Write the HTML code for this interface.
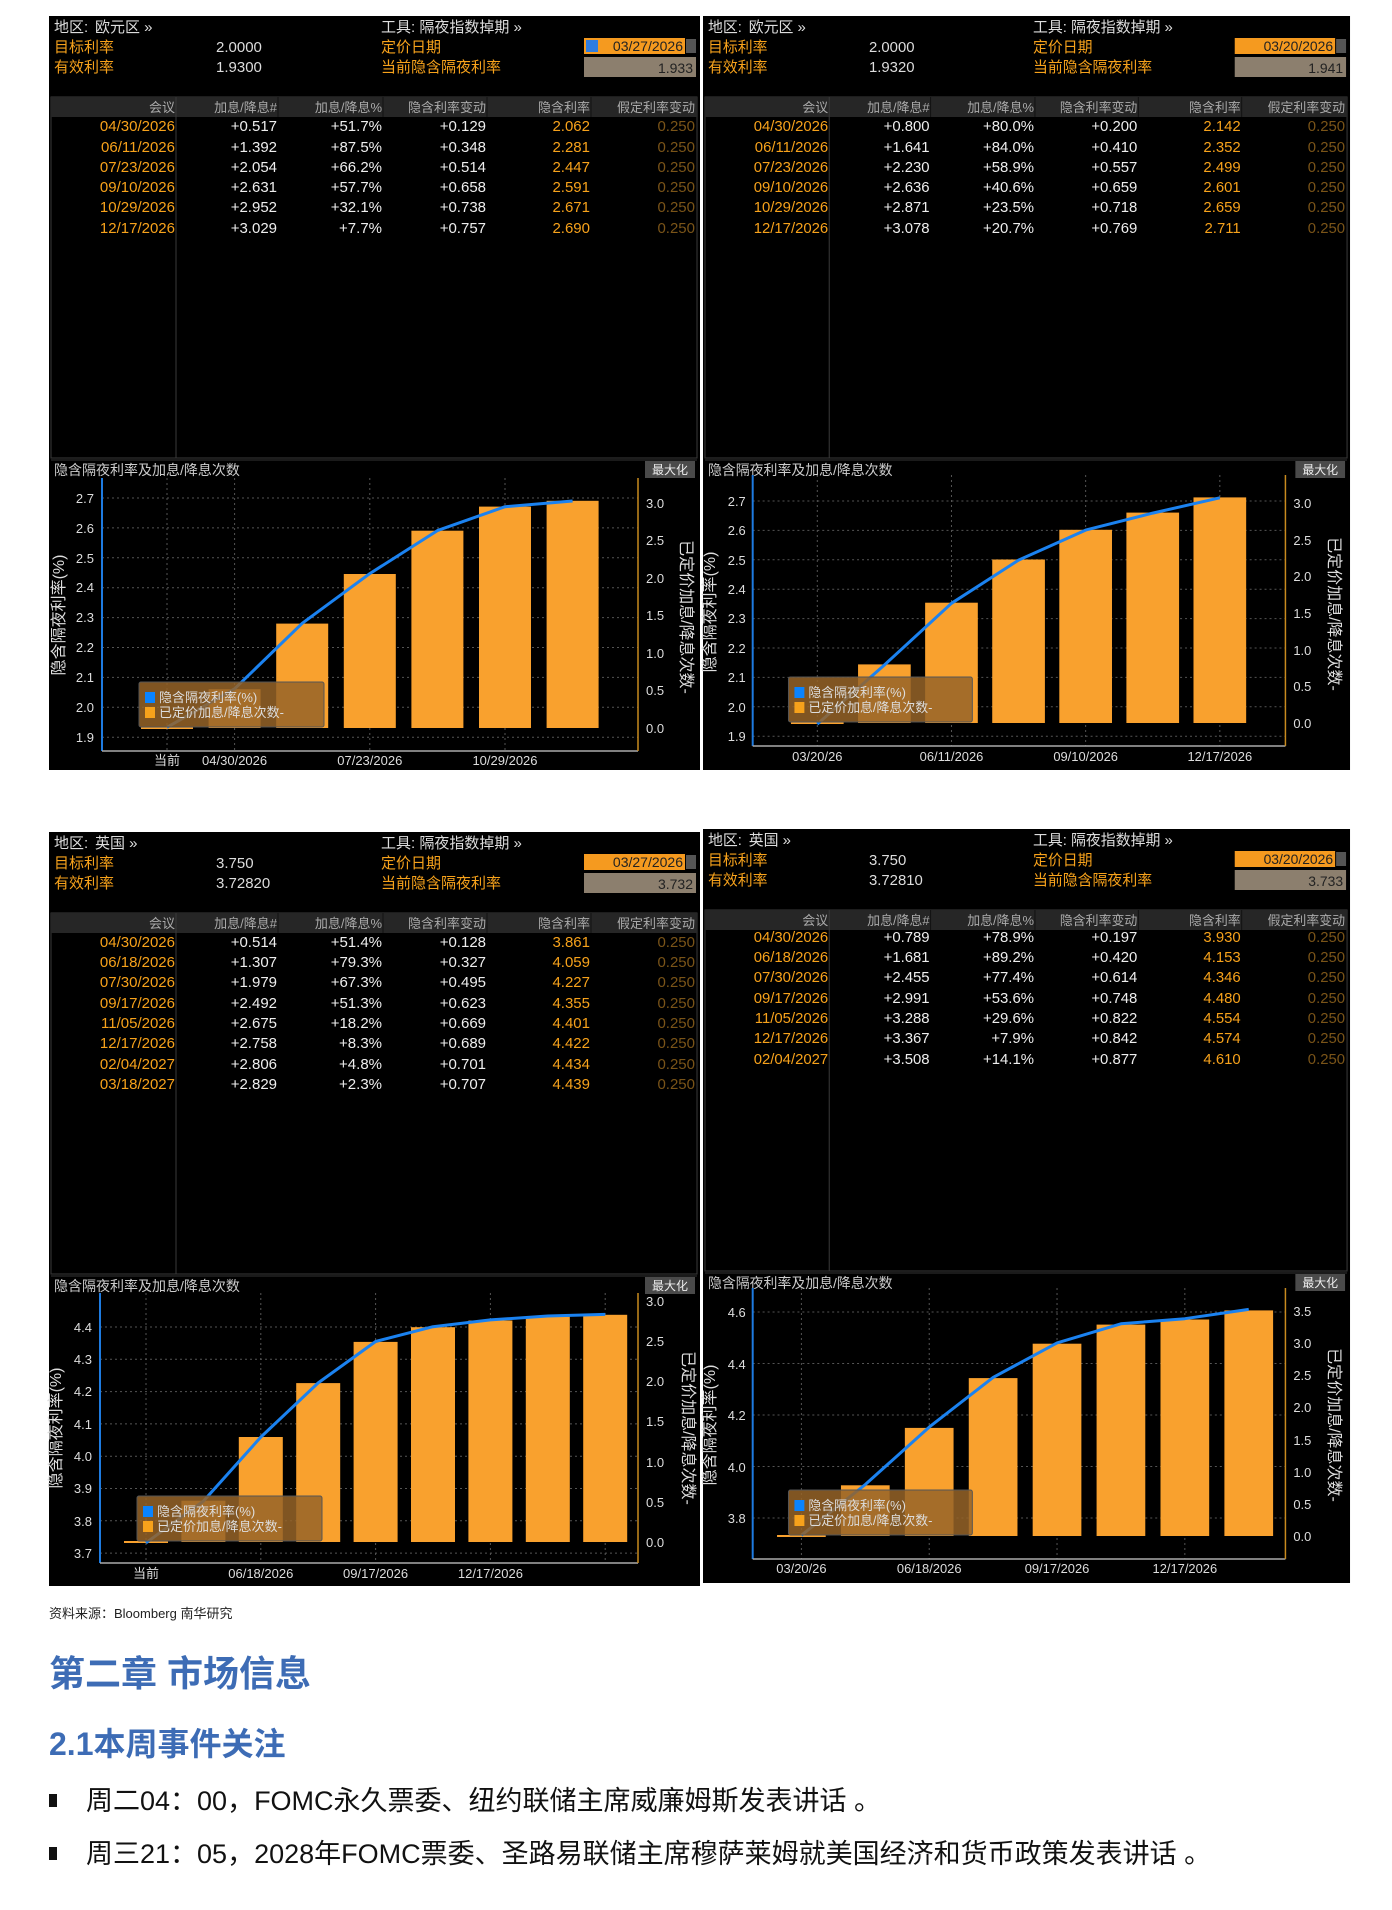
<!DOCTYPE html>
<html><head><meta charset="utf-8">
<style>
html,body{margin:0;padding:0;background:#fff;}
svg{display:block;}
text{font-family:"Liberation Sans","Noto Sans CJK SC",sans-serif;}
</style></head>
<body>
<svg width="1392" height="1910" viewBox="0 0 1392 1910" xmlns="http://www.w3.org/2000/svg">
<defs>
<g id="tbl">
<rect x="0" y="0" width="651" height="754" fill="#000"/>
<rect x="2" y="81" width="646" height="361" fill="none" stroke="#3a3a3a"/>
<rect x="2" y="81" width="646" height="20" fill="#262626"/>
<line x1="127" y1="81" x2="127" y2="442" stroke="#3a3a3a"/>
<line x1="229" y1="81" x2="229" y2="101" stroke="#111"/>
<line x1="334" y1="81" x2="334" y2="101" stroke="#111"/>
<line x1="438" y1="81" x2="438" y2="101" stroke="#111"/>
<line x1="542" y1="81" x2="542" y2="101" stroke="#111"/>
<g font-size="13" fill="#aaa" text-anchor="end">
<text x="126" y="96">会议</text><text x="228" y="96">加息/降息#</text><text x="333" y="96">加息/降息%</text><text x="437" y="96">隐含利率变动</text><text x="541" y="96">隐含利率</text><text x="646" y="96">假定利率变动</text>
</g>
<g font-size="15">
<text x="5" y="16" fill="#ddd">地区: </text>
<text x="5" y="36" fill="#f7a21b">目标利率</text>
<text x="5" y="56" fill="#f7a21b">有效利率</text>
<text x="332" y="16" fill="#ddd">工具: 隔夜指数掉期 »</text>
<text x="332" y="36" fill="#f7a21b">定价日期</text>
<text x="332" y="56" fill="#f7a21b">当前隐含隔夜利率</text>
</g>
<rect x="535" y="22" width="101" height="16" fill="#f59a1f"/>
<rect x="637" y="23" width="10" height="14" fill="#555"/>
<rect x="535" y="41" width="112" height="20" fill="#8c7f6e"/>
<line x1="2" y1="444" x2="648" y2="444" stroke="#333"/>
<text x="5" y="459" font-size="14" fill="#ccc">隐含隔夜利率及加息/降息次数</text>
<rect x="596" y="445" width="50" height="17" fill="#4a4a4a"/>
<text x="621" y="458" font-size="12" fill="#eee" text-anchor="middle">最大化</text>
</g>
<g id="leg">
<rect x="0" y="0" width="185" height="45" fill="rgb(150,100,40)" fill-opacity="0.85" stroke="#555" rx="2"/>
<rect x="6" y="10" width="10" height="11" fill="#0a84ff"/>
<rect x="6" y="25" width="10" height="11" fill="#f7a21b"/>
<text x="20" y="20" font-size="13" fill="#ddd">隐含隔夜利率(%)</text>
<text x="20" y="35" font-size="13" fill="#ddd">已定价加息/降息次数-</text>
</g>
</defs>

<!-- ============ TL ============ -->
<g transform="translate(49,16)">
<use href="#tbl"/>
<text x="46" y="16" font-size="15" fill="#ddd">欧元区 »</text>
<text x="167" y="36" font-size="15" fill="#ddd">2.0000</text>
<text x="167" y="56" font-size="15" fill="#ddd">1.9300</text>
<rect x="537" y="24" width="12" height="12" fill="#2f7de0"/>
<text x="634" y="35" font-size="14" fill="#222" text-anchor="end">03/27/2026</text>
<text x="644" y="57" font-size="14" fill="#222" text-anchor="end">1.933</text>
<g font-size="15" text-anchor="end">
<g fill="#f7a21b"><text x="126" y="115">04/30/2026</text><text x="126" y="136">06/11/2026</text><text x="126" y="156">07/23/2026</text><text x="126" y="176">09/10/2026</text><text x="126" y="196">10/29/2026</text><text x="126" y="217">12/17/2026</text></g>
<g fill="#eee"><text x="228" y="115">+0.517</text><text x="228" y="136">+1.392</text><text x="228" y="156">+2.054</text><text x="228" y="176">+2.631</text><text x="228" y="196">+2.952</text><text x="228" y="217">+3.029</text></g>
<g fill="#eee"><text x="333" y="115">+51.7%</text><text x="333" y="136">+87.5%</text><text x="333" y="156">+66.2%</text><text x="333" y="176">+57.7%</text><text x="333" y="196">+32.1%</text><text x="333" y="217">+7.7%</text></g>
<g fill="#eee"><text x="437" y="115">+0.129</text><text x="437" y="136">+0.348</text><text x="437" y="156">+0.514</text><text x="437" y="176">+0.658</text><text x="437" y="196">+0.738</text><text x="437" y="217">+0.757</text></g>
<g fill="#f7a21b"><text x="541" y="115">2.062</text><text x="541" y="136">2.281</text><text x="541" y="156">2.447</text><text x="541" y="176">2.591</text><text x="541" y="196">2.671</text><text x="541" y="217">2.690</text></g>
<g fill="#7a5418"><text x="646" y="115">0.250</text><text x="646" y="136">0.250</text><text x="646" y="156">0.250</text><text x="646" y="176">0.250</text><text x="646" y="196">0.250</text><text x="646" y="217">0.250</text></g>
</g>
<g stroke="#555" stroke-dasharray="2,3" stroke-width="1">
<line x1="53" x2="589" y1="482" y2="482"/><line x1="53" x2="589" y1="511.9" y2="511.9"/><line x1="53" x2="589" y1="541.8" y2="541.8"/><line x1="53" x2="589" y1="571.7" y2="571.7"/><line x1="53" x2="589" y1="601.6" y2="601.6"/><line x1="53" x2="589" y1="631.5" y2="631.5"/><line x1="53" x2="589" y1="661.4" y2="661.4"/><line x1="53" x2="589" y1="691.3" y2="691.3"/><line x1="53" x2="589" y1="721.2" y2="721.2"/>
<line x1="118" x2="118" y1="462" y2="735"/><line x1="185.6" x2="185.6" y1="462" y2="735"/><line x1="320.8" x2="320.8" y1="462" y2="735"/><line x1="456" x2="456" y1="462" y2="735"/>
</g>
<g fill="#f9a12e">
<rect x="92" y="711" width="52" height="2"/>
<rect x="159.6" y="673.2" width="52" height="38.8"/>
<rect x="227.2" y="607.6" width="52" height="104.4"/>
<rect x="294.8" y="558" width="52" height="154"/>
<rect x="362.4" y="514.7" width="52" height="197.3"/>
<rect x="430" y="490.6" width="52" height="221.4"/>
<rect x="497.6" y="484.8" width="52" height="227.2"/>
</g>
<polyline points="118,711.3 185.6,672.8 253.2,607.3 320.8,557.6 388.4,514.6 456,490.7 523.6,485" fill="none" stroke="#1b82f0" stroke-width="3" stroke-linejoin="round"/>
<use href="#leg" x="90" y="666"/>
<line x1="53" y1="462" x2="53" y2="735" stroke="#1e7be0" stroke-width="2"/>
<line x1="53" y1="735" x2="589" y2="735" stroke="#aaa" stroke-width="1.5"/>
<line x1="589" y1="462" x2="589" y2="735" stroke="#c88a1e" stroke-width="1.5"/>
<g font-size="13" fill="#ddd" text-anchor="end">
<text x="45" y="487">2.7</text><text x="45" y="517">2.6</text><text x="45" y="547">2.5</text><text x="45" y="576">2.4</text><text x="45" y="606">2.3</text><text x="45" y="636">2.2</text><text x="45" y="666">2.1</text><text x="45" y="696">2.0</text><text x="45" y="726">1.9</text>
</g>
<g font-size="13" fill="#ddd">
<text x="597" y="492">3.0</text><text x="597" y="529">2.5</text><text x="597" y="567">2.0</text><text x="597" y="604">1.5</text><text x="597" y="642">1.0</text><text x="597" y="679">0.5</text><text x="597" y="717">0.0</text>
</g>
<g font-size="13" fill="#ddd" text-anchor="middle">
<text x="118" y="749">当前</text><text x="185.6" y="749">04/30/2026</text><text x="320.8" y="749">07/23/2026</text><text x="456" y="749">10/29/2026</text>
</g>
<text transform="translate(15,599) rotate(-90)" font-size="16" fill="#ddd" text-anchor="middle">隐含隔夜利率(%)</text>
<text transform="translate(632,601) rotate(90)" font-size="16" fill="#ddd" text-anchor="middle">已定价加息/降息次数-</text>
</g>

<!-- ============ TR ============ -->
<g transform="translate(703,16) scale(0.9939,1)">
<use href="#tbl"/>
<text x="46" y="16" font-size="15" fill="#ddd">欧元区 »</text>
<text x="167" y="36" font-size="15" fill="#ddd">2.0000</text>
<text x="167" y="56" font-size="15" fill="#ddd">1.9320</text>
<text x="634" y="35" font-size="14" fill="#222" text-anchor="end">03/20/2026</text>
<text x="644" y="57" font-size="14" fill="#222" text-anchor="end">1.941</text>
<g font-size="15" text-anchor="end">
<g fill="#f7a21b"><text x="126" y="115">04/30/2026</text><text x="126" y="136">06/11/2026</text><text x="126" y="156">07/23/2026</text><text x="126" y="176">09/10/2026</text><text x="126" y="196">10/29/2026</text><text x="126" y="217">12/17/2026</text></g>
<g fill="#eee"><text x="228" y="115">+0.800</text><text x="228" y="136">+1.641</text><text x="228" y="156">+2.230</text><text x="228" y="176">+2.636</text><text x="228" y="196">+2.871</text><text x="228" y="217">+3.078</text></g>
<g fill="#eee"><text x="333" y="115">+80.0%</text><text x="333" y="136">+84.0%</text><text x="333" y="156">+58.9%</text><text x="333" y="176">+40.6%</text><text x="333" y="196">+23.5%</text><text x="333" y="217">+20.7%</text></g>
<g fill="#eee"><text x="437" y="115">+0.200</text><text x="437" y="136">+0.410</text><text x="437" y="156">+0.557</text><text x="437" y="176">+0.659</text><text x="437" y="196">+0.718</text><text x="437" y="217">+0.769</text></g>
<g fill="#f7a21b"><text x="541" y="115">2.142</text><text x="541" y="136">2.352</text><text x="541" y="156">2.499</text><text x="541" y="176">2.601</text><text x="541" y="196">2.659</text><text x="541" y="217">2.711</text></g>
<g fill="#7a5418"><text x="646" y="115">0.250</text><text x="646" y="136">0.250</text><text x="646" y="156">0.250</text><text x="646" y="176">0.250</text><text x="646" y="196">0.250</text><text x="646" y="217">0.250</text></g>
</g>
<g stroke="#555" stroke-dasharray="2,3" stroke-width="1">
<line x1="50" x2="586" y1="485" y2="485"/><line x1="50" x2="586" y1="514.4" y2="514.4"/><line x1="50" x2="586" y1="543.8" y2="543.8"/><line x1="50" x2="586" y1="573.2" y2="573.2"/><line x1="50" x2="586" y1="602.6" y2="602.6"/><line x1="50" x2="586" y1="632" y2="632"/><line x1="50" x2="586" y1="661.4" y2="661.4"/><line x1="50" x2="586" y1="690.8" y2="690.8"/><line x1="50" x2="586" y1="720.2" y2="720.2"/>
<line x1="115" x2="115" y1="459" y2="730"/><line x1="250" x2="250" y1="459" y2="730"/><line x1="385" x2="385" y1="459" y2="730"/><line x1="520" x2="520" y1="459" y2="730"/>
</g>
<g fill="#f9a12e">
<rect x="88.5" y="706" width="53" height="2"/>
<rect x="156" y="648.4" width="53" height="58.6"/>
<rect x="223.5" y="586.7" width="53" height="120.3"/>
<rect x="291" y="543.5" width="53" height="163.5"/>
<rect x="358.5" y="513.8" width="53" height="193.2"/>
<rect x="426" y="496.6" width="53" height="210.4"/>
<rect x="493.5" y="481.4" width="53" height="225.6"/>
</g>
<polyline points="115,708.1 182.5,649 250,587.3 317.5,544.1 385,514.1 452.5,497.1 520,481.8" fill="none" stroke="#1b82f0" stroke-width="3" stroke-linejoin="round"/>
<use href="#leg" x="86" y="661"/>
<line x1="50" y1="459" x2="50" y2="730" stroke="#1e7be0" stroke-width="2"/>
<line x1="50" y1="730" x2="586" y2="730" stroke="#aaa" stroke-width="1.5"/>
<line x1="586" y1="459" x2="586" y2="730" stroke="#c88a1e" stroke-width="1.5"/>
<g font-size="13" fill="#ddd" text-anchor="end">
<text x="43" y="490">2.7</text><text x="43" y="519">2.6</text><text x="43" y="549">2.5</text><text x="43" y="578">2.4</text><text x="43" y="607">2.3</text><text x="43" y="637">2.2</text><text x="43" y="666">2.1</text><text x="43" y="696">2.0</text><text x="43" y="725">1.9</text>
</g>
<g font-size="13" fill="#ddd">
<text x="594" y="492">3.0</text><text x="594" y="529">2.5</text><text x="594" y="565">2.0</text><text x="594" y="602">1.5</text><text x="594" y="639">1.0</text><text x="594" y="675">0.5</text><text x="594" y="712">0.0</text>
</g>
<g font-size="13" fill="#ddd" text-anchor="middle">
<text x="115" y="745">03/20/26</text><text x="250" y="745">06/11/2026</text><text x="385" y="745">09/10/2026</text><text x="520" y="745">12/17/2026</text>
</g>
<text transform="translate(12,596) rotate(-90)" font-size="16" fill="#ddd" text-anchor="middle">隐含隔夜利率(%)</text>
<text transform="translate(630,598) rotate(90)" font-size="16" fill="#ddd" text-anchor="middle">已定价加息/降息次数-</text>
</g>

<!-- ============ BL ============ -->
<g transform="translate(49,832)">
<use href="#tbl"/>
<text x="46" y="16" font-size="15" fill="#ddd">英国 »</text>
<text x="167" y="36" font-size="15" fill="#ddd">3.750</text>
<text x="167" y="56" font-size="15" fill="#ddd">3.72820</text>
<text x="634" y="35" font-size="14" fill="#222" text-anchor="end">03/27/2026</text>
<text x="644" y="57" font-size="14" fill="#222" text-anchor="end">3.732</text>
<g font-size="15" text-anchor="end">
<g fill="#f7a21b"><text x="126" y="115">04/30/2026</text><text x="126" y="135">06/18/2026</text><text x="126" y="155">07/30/2026</text><text x="126" y="176">09/17/2026</text><text x="126" y="196">11/05/2026</text><text x="126" y="216">12/17/2026</text><text x="126" y="237">02/04/2027</text><text x="126" y="257">03/18/2027</text></g>
<g fill="#eee"><text x="228" y="115">+0.514</text><text x="228" y="135">+1.307</text><text x="228" y="155">+1.979</text><text x="228" y="176">+2.492</text><text x="228" y="196">+2.675</text><text x="228" y="216">+2.758</text><text x="228" y="237">+2.806</text><text x="228" y="257">+2.829</text></g>
<g fill="#eee"><text x="333" y="115">+51.4%</text><text x="333" y="135">+79.3%</text><text x="333" y="155">+67.3%</text><text x="333" y="176">+51.3%</text><text x="333" y="196">+18.2%</text><text x="333" y="216">+8.3%</text><text x="333" y="237">+4.8%</text><text x="333" y="257">+2.3%</text></g>
<g fill="#eee"><text x="437" y="115">+0.128</text><text x="437" y="135">+0.327</text><text x="437" y="155">+0.495</text><text x="437" y="176">+0.623</text><text x="437" y="196">+0.669</text><text x="437" y="216">+0.689</text><text x="437" y="237">+0.701</text><text x="437" y="257">+0.707</text></g>
<g fill="#f7a21b"><text x="541" y="115">3.861</text><text x="541" y="135">4.059</text><text x="541" y="155">4.227</text><text x="541" y="176">4.355</text><text x="541" y="196">4.401</text><text x="541" y="216">4.422</text><text x="541" y="237">4.434</text><text x="541" y="257">4.439</text></g>
<g fill="#7a5418"><text x="646" y="115">0.250</text><text x="646" y="135">0.250</text><text x="646" y="155">0.250</text><text x="646" y="176">0.250</text><text x="646" y="196">0.250</text><text x="646" y="216">0.250</text><text x="646" y="237">0.250</text><text x="646" y="257">0.250</text></g>
</g>
<g stroke="#555" stroke-dasharray="2,3" stroke-width="1">
<line x1="51" x2="589" y1="495" y2="495"/><line x1="51" x2="589" y1="527.3" y2="527.3"/><line x1="51" x2="589" y1="559.6" y2="559.6"/><line x1="51" x2="589" y1="591.9" y2="591.9"/><line x1="51" x2="589" y1="624.2" y2="624.2"/><line x1="51" x2="589" y1="656.5" y2="656.5"/><line x1="51" x2="589" y1="688.8" y2="688.8"/><line x1="51" x2="589" y1="721.1" y2="721.1"/>
<line x1="97" x2="97" y1="461" y2="731"/><line x1="211.8" x2="211.8" y1="461" y2="731"/><line x1="326.6" x2="326.6" y1="461" y2="731"/><line x1="441.4" x2="441.4" y1="461" y2="731"/><line x1="556.2" x2="556.2" y1="461" y2="731"/>
</g>
<g fill="#f9a12e">
<rect x="75" y="709" width="44" height="2"/>
<rect x="132.4" y="668.7" width="44" height="41.3"/>
<rect x="189.8" y="605" width="44" height="105"/>
<rect x="247.2" y="551.1" width="44" height="158.9"/>
<rect x="304.6" y="509.9" width="44" height="200.1"/>
<rect x="362" y="495.2" width="44" height="214.8"/>
<rect x="419.4" y="488.5" width="44" height="221.5"/>
<rect x="476.8" y="484.7" width="44" height="225.3"/>
<rect x="534.2" y="482.8" width="44" height="227.2"/>
</g>
<polyline points="97,710.8 154.4,669.1 211.8,605.1 269.2,550.9 326.6,509.5 384,494.7 441.4,487.9 498.8,484 556.2,482.4" fill="none" stroke="#1b82f0" stroke-width="3" stroke-linejoin="round"/>
<use href="#leg" x="88" y="664"/>
<line x1="51" y1="461" x2="51" y2="731" stroke="#1e7be0" stroke-width="2"/>
<line x1="51" y1="731" x2="589" y2="731" stroke="#aaa" stroke-width="1.5"/>
<line x1="589" y1="461" x2="589" y2="731" stroke="#c88a1e" stroke-width="1.5"/>
<g font-size="13" fill="#ddd" text-anchor="end">
<text x="43" y="500">4.4</text><text x="43" y="532">4.3</text><text x="43" y="564">4.2</text><text x="43" y="597">4.1</text><text x="43" y="629">4.0</text><text x="43" y="661">3.9</text><text x="43" y="694">3.8</text><text x="43" y="726">3.7</text>
</g>
<g font-size="13" fill="#ddd">
<text x="597" y="474">3.0</text><text x="597" y="514">2.5</text><text x="597" y="554">2.0</text><text x="597" y="594">1.5</text><text x="597" y="635">1.0</text><text x="597" y="675">0.5</text><text x="597" y="715">0.0</text>
</g>
<g font-size="13" fill="#ddd" text-anchor="middle">
<text x="97" y="746">当前</text><text x="211.8" y="746">06/18/2026</text><text x="326.6" y="746">09/17/2026</text><text x="441.4" y="746">12/17/2026</text>
</g>
<text transform="translate(12,596) rotate(-90)" font-size="16" fill="#ddd" text-anchor="middle">隐含隔夜利率(%)</text>
<text transform="translate(634,596) rotate(90)" font-size="16" fill="#ddd" text-anchor="middle">已定价加息/降息次数-</text>
</g>

<!-- ============ BR ============ -->
<g transform="translate(703,829) scale(0.9939,1)">
<use href="#tbl"/>
<text x="46" y="16" font-size="15" fill="#ddd">英国 »</text>
<text x="167" y="36" font-size="15" fill="#ddd">3.750</text>
<text x="167" y="56" font-size="15" fill="#ddd">3.72810</text>
<text x="634" y="35" font-size="14" fill="#222" text-anchor="end">03/20/2026</text>
<text x="644" y="57" font-size="14" fill="#222" text-anchor="end">3.733</text>
<g font-size="15" text-anchor="end">
<g fill="#f7a21b"><text x="126" y="113">04/30/2026</text><text x="126" y="133">06/18/2026</text><text x="126" y="153">07/30/2026</text><text x="126" y="174">09/17/2026</text><text x="126" y="194">11/05/2026</text><text x="126" y="214">12/17/2026</text><text x="126" y="235">02/04/2027</text></g>
<g fill="#eee"><text x="228" y="113">+0.789</text><text x="228" y="133">+1.681</text><text x="228" y="153">+2.455</text><text x="228" y="174">+2.991</text><text x="228" y="194">+3.288</text><text x="228" y="214">+3.367</text><text x="228" y="235">+3.508</text></g>
<g fill="#eee"><text x="333" y="113">+78.9%</text><text x="333" y="133">+89.2%</text><text x="333" y="153">+77.4%</text><text x="333" y="174">+53.6%</text><text x="333" y="194">+29.6%</text><text x="333" y="214">+7.9%</text><text x="333" y="235">+14.1%</text></g>
<g fill="#eee"><text x="437" y="113">+0.197</text><text x="437" y="133">+0.420</text><text x="437" y="153">+0.614</text><text x="437" y="174">+0.748</text><text x="437" y="194">+0.822</text><text x="437" y="214">+0.842</text><text x="437" y="235">+0.877</text></g>
<g fill="#f7a21b"><text x="541" y="113">3.930</text><text x="541" y="133">4.153</text><text x="541" y="153">4.346</text><text x="541" y="174">4.480</text><text x="541" y="194">4.554</text><text x="541" y="214">4.574</text><text x="541" y="235">4.610</text></g>
<g fill="#7a5418"><text x="646" y="113">0.250</text><text x="646" y="133">0.250</text><text x="646" y="153">0.250</text><text x="646" y="174">0.250</text><text x="646" y="194">0.250</text><text x="646" y="214">0.250</text><text x="646" y="235">0.250</text></g>
</g>
<g stroke="#555" stroke-dasharray="2,3" stroke-width="1">
<line x1="50" x2="586" y1="483" y2="483"/><line x1="50" x2="586" y1="534.5" y2="534.5"/><line x1="50" x2="586" y1="586" y2="586"/><line x1="50" x2="586" y1="637.5" y2="637.5"/><line x1="50" x2="586" y1="689" y2="689"/>
<line x1="99" x2="99" y1="459" y2="730"/><line x1="227.6" x2="227.6" y1="459" y2="730"/><line x1="356.2" x2="356.2" y1="459" y2="730"/><line x1="484.8" x2="484.8" y1="459" y2="730"/>
</g>
<g fill="#f9a12e">
<rect x="74.5" y="706" width="49" height="2"/>
<rect x="138.8" y="656.3" width="49" height="50.7"/>
<rect x="203.1" y="598.9" width="49" height="108.1"/>
<rect x="267.4" y="549.1" width="49" height="157.9"/>
<rect x="331.7" y="514.7" width="49" height="192.3"/>
<rect x="396" y="495.6" width="49" height="211.4"/>
<rect x="460.3" y="490.5" width="49" height="216.5"/>
<rect x="524.6" y="481.4" width="49" height="225.6"/>
</g>
<polyline points="99,706.3 163.3,655.5 227.6,598.1 291.9,548.4 356.2,513.9 420.5,494.8 484.8,489.7 549.1,480.4" fill="none" stroke="#1b82f0" stroke-width="3" stroke-linejoin="round"/>
<use href="#leg" x="86" y="661"/>
<line x1="50" y1="459" x2="50" y2="730" stroke="#1e7be0" stroke-width="2"/>
<line x1="50" y1="730" x2="586" y2="730" stroke="#aaa" stroke-width="1.5"/>
<line x1="586" y1="459" x2="586" y2="730" stroke="#c88a1e" stroke-width="1.5"/>
<g font-size="13" fill="#ddd" text-anchor="end">
<text x="43" y="488">4.6</text><text x="43" y="540">4.4</text><text x="43" y="591">4.2</text><text x="43" y="643">4.0</text><text x="43" y="694">3.8</text>
</g>
<g font-size="13" fill="#ddd">
<text x="594" y="487">3.5</text><text x="594" y="519">3.0</text><text x="594" y="551">2.5</text><text x="594" y="583">2.0</text><text x="594" y="616">1.5</text><text x="594" y="648">1.0</text><text x="594" y="680">0.5</text><text x="594" y="712">0.0</text>
</g>
<g font-size="13" fill="#ddd" text-anchor="middle">
<text x="99" y="744">03/20/26</text><text x="227.6" y="744">06/18/2026</text><text x="356.2" y="744">09/17/2026</text><text x="484.8" y="744">12/17/2026</text>
</g>
<text transform="translate(12,596) rotate(-90)" font-size="16" fill="#ddd" text-anchor="middle">隐含隔夜利率(%)</text>
<text transform="translate(630,596) rotate(90)" font-size="16" fill="#ddd" text-anchor="middle">已定价加息/降息次数-</text>
</g>

<!-- ============ bottom text ============ -->
<text x="49" y="1618" font-size="13" fill="#222">资料来源：Bloomberg 南华研究</text>
<text x="49" y="1686" font-size="36" font-weight="bold" fill="#3d6cb5">第二章 市场信息</text>
<text x="49" y="1755" font-size="32" font-weight="bold" fill="#3d6cb5">2.1本周事件关注</text>
<rect x="49" y="1794" width="8" height="13" fill="#111"/>
<text x="86" y="1810" font-size="27" fill="#111">周二04：00，FOMC永久票委、纽约联储主席威廉姆斯发表讲话 。</text>
<rect x="49" y="1847" width="8" height="13" fill="#111"/>
<text x="86" y="1863" font-size="27" fill="#111">周三21：05，2028年FOMC票委、圣路易联储主席穆萨莱姆就美国经济和货币政策发表讲话 。</text>
</svg>
</body></html>
